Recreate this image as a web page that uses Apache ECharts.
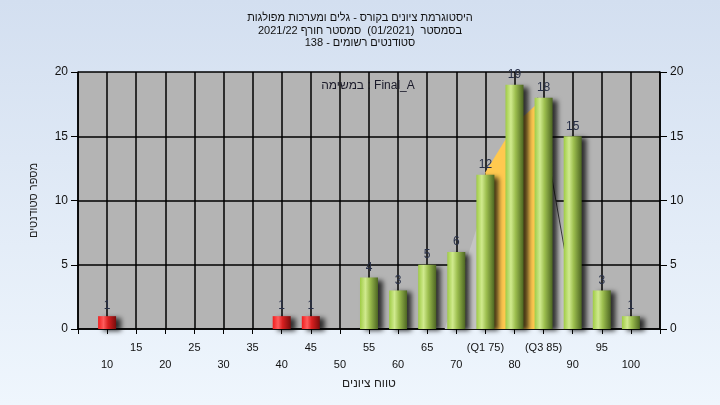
<!DOCTYPE html>
<html><head><meta charset="utf-8">
<script src="https://cdn.jsdelivr.net/npm/echarts/dist/echarts.min.js"></script>
<style>html,body{margin:0;padding:0;}#c{width:720px;height:405px;}</style>
</head><body><div id="c"></div>
<script>
// ---- data ----
const titleLines = ['היסטוגרמת ציונים בקורס - גלים ומערכות מפולגות', 'בסמסטר  (01/2021)  סמסטר חורף 2021/22', 'סטודנטים רשומים - 138'];
const assignmentLabel = 'במשימה : Final_A';
const xAxisName = 'טווח ציונים';
const yAxisName = 'מספר סטודנטים';
const grades = [10, 40, 45, 55, 60, 65, 70, 75, 80, 85, 90, 95, 100];
const counts = [1, 1, 1, 4, 3, 5, 6, 12, 19, 18, 15, 3, 1];
const passGrade = 55;
const tickLabels = {75: '(Q1 75)', 85: '(Q3 85)'};
const lowTailX = [68, 75], lowTailY = [0, 10];
const iqrX = [75, 80, 85], iqrY = [12.2, 15.9, 18];
const highTailX = [84, 91], highTailY = [18, 0];

const G = echarts.graphic;
const greenGrad = new G.LinearGradient(0, 0, 1, 0, [
  {offset: 0, color: '#9fcb45'}, {offset: 0.3, color: '#d0ea8e'},
  {offset: 0.55, color: '#9dbf4f'}, {offset: 1, color: '#4d6622'}]);
const redGrad = new G.LinearGradient(0, 0, 1, 0, [
  {offset: 0, color: '#f01c1c'}, {offset: 0.3, color: '#ff5c5c'},
  {offset: 0.55, color: '#d82020'}, {offset: 1, color: '#7a0c0c'}]);

const barData = grades.map((g, i) => ({
  value: [g, counts[i]],
  itemStyle: {color: g < passGrade ? redGrad : greenGrad}
}));
const zip = (xs, ys) => xs.map((x, i) => [x, ys[i]]);

const font = 'Liberation Sans, Arial, sans-serif';
const chart = echarts.init(document.getElementById('c'), null, {renderer: 'canvas'});
chart.setOption({
  animation: false,
  backgroundColor: new G.LinearGradient(0, 0, 0, 1, [
    {offset: 0, color: '#d3dff0'}, {offset: 1, color: '#eff6fd'}]),
  title: [
    {text: titleLines.join('\n'), left: 'center', top: 12, padding: 0,
     textStyle: {fontFamily: font, fontSize: 11, fontWeight: 'normal', color: '#111', lineHeight: 12.5}},
    {text: assignmentLabel, left: 368, top: 80, padding: 0, textAlign: 'center',
     textStyle: {fontFamily: font, fontSize: 12, fontWeight: 'normal', color: '#1a1a2a'}}
  ],
  grid: {left: 78, right: 60, top: 72, bottom: 76, show: true, backgroundColor: '#b4b4b4', borderWidth: 0},
  xAxis: {
    type: 'value', min: 5, max: 105, interval: 5,
    name: xAxisName, nameLocation: 'middle', nameGap: 46,
    nameTextStyle: {fontFamily: font, fontSize: 12, color: '#222'},
    axisLine: {show: true, lineStyle: {color: '#000', width: 1.5}},
    axisTick: {show: true, length: 5, lineStyle: {color: '#000'}},
    splitLine: {show: true, lineStyle: {color: '#000', width: 1.5}},
    axisLabel: {
      margin: 10, fontFamily: font, fontSize: 11, color: '#111', lineHeight: 17,
      showMinLabel: true, showMaxLabel: true, hideOverlap: false,
      formatter: function (v) {
        if (v < 10 || v > 100) return '';
        const t = tickLabels[v] || String(v);
        return v % 10 === 0 ? '\n' + t : t;
      }
    }
  },
  yAxis: [
    {type: 'value', min: 0, max: 20, interval: 5, position: 'left',
     name: yAxisName, nameLocation: 'middle', nameGap: 39, nameRotate: 90,
     nameTextStyle: {fontFamily: font, fontSize: 11, color: '#222'},
     axisLine: {show: true, lineStyle: {color: '#000', width: 1.5}},
     axisTick: {show: true, length: 7, lineStyle: {color: '#000'}},
     splitLine: {show: true, lineStyle: {color: '#000', width: 1.5}},
     axisLabel: {margin: 10, fontFamily: font, fontSize: 12, color: '#111'}},
    {type: 'value', min: 0, max: 20, interval: 5, position: 'right',
     axisLine: {show: true, lineStyle: {color: '#000', width: 1.5}},
     axisTick: {show: true, length: 7, lineStyle: {color: '#000'}},
     splitLine: {show: false},
     axisLabel: {margin: 10, fontFamily: font, fontSize: 12, color: '#111'}}
  ],
  series: [
    {type: 'line', data: zip(lowTailX, lowTailY), symbol: 'none', z: 1,
     lineStyle: {width: 0, opacity: 0}, areaStyle: {color: '#c4c4c4', opacity: 1}},
    {type: 'line', data: zip(highTailX, highTailY), symbol: 'none', z: 1,
     lineStyle: {width: 1, color: '#3a3a3a'}, areaStyle: {color: '#c4c4c4', opacity: 1}},
    {type: 'line', data: zip(iqrX, iqrY), symbol: 'none', z: 1,
     lineStyle: {width: 0, opacity: 0}, areaStyle: {color: '#ffc94f', opacity: 1}},
    {type: 'bar', data: barData, barWidth: 18, z: 3,
     itemStyle: {shadowColor: 'rgba(0,0,0,0.75)', shadowBlur: 5, shadowOffsetX: 5, shadowOffsetY: 2},
     label: {show: true, position: 'top', distance: 4, fontFamily: font, fontSize: 12, color: '#283048'}}
  ]
});
</script></body></html>
